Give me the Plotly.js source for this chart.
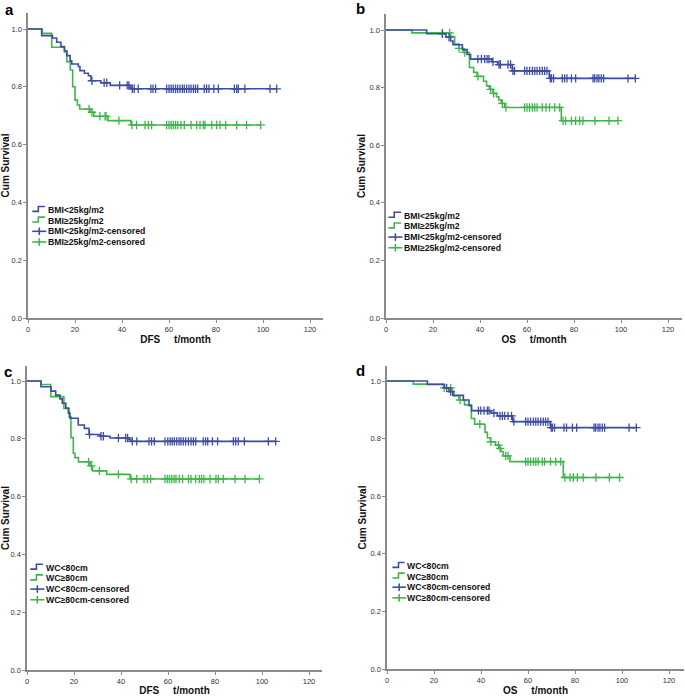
<!DOCTYPE html>
<html><head><meta charset="utf-8">
<script src="https://cdn.plot.ly/plotly-3.0.1.min.js"></script>
<style>html,body{margin:0;padding:0;background:#fff}#chart{width:685px;height:696px}</style>
</head><body><div id="chart"></div>
<script>
// ---------- DATA ----------
// Panel a: DFS by BMI
const aLowEventT = [0, 5.8, 10.4, 12.2, 14, 15.5, 16.5, 17.9, 18.6, 21.4, 22.1, 24, 25.7, 26.8, 31, 35, 43.4, 44];
const aLowSurv   = [1, 0.977, 0.969, 0.954, 0.939, 0.925, 0.908, 0.89, 0.879, 0.870, 0.856, 0.847, 0.838, 0.821, 0.814, 0.805, 0.798, 0.793];
const aLowCens   = [27.2, 32.4, 33.5, 39, 42.2, 42.9, 44.4, 45.2, 46.9, 52.3, 53.2, 54.3, 59.0, 60.0, 60.9, 61.8, 62.8, 63.7, 64.7, 65.7, 66.5, 67.5, 68.5, 69.4, 70.4, 71.3, 72.2, 75.0, 76.0, 77.0, 79.1, 81.0, 87.8, 88.8, 89.5, 92.3, 103.0, 105.8];
const aHighEventT = [0, 6, 10.1, 15.5, 16.5, 18, 19, 20, 21, 22, 26.6, 28, 34, 43.8];
const aHighSurv   = [1, 0.985, 0.937, 0.921, 0.887, 0.858, 0.80, 0.754, 0.737, 0.723, 0.712, 0.698, 0.683, 0.668];
const aHighCens   = [26.0, 27.2, 30.6, 32.8, 33.2, 38.7, 44.2, 46.2, 49.8, 51.2, 52.6, 59.0, 60.0, 60.9, 61.8, 62.8, 63.7, 65.1, 66.5, 69.4, 71.8, 73.2, 74.6, 75.3, 78.2, 80.3, 81.7, 84.1, 88.8, 93.0, 99.0];

// Panel b: OS by BMI
const bLowEventT = [0, 17.3, 25.5, 27.5, 28.5, 32.5, 34.5, 36, 45, 47.5, 53.7, 69.5];
const bLowSurv   = [1, 0.987, 0.975, 0.962, 0.949, 0.932, 0.915, 0.899, 0.89, 0.88, 0.858, 0.832];
const bLowCens   = [24.0, 26.8, 39.1, 40.6, 42.0, 43.0, 43.8, 45.5, 48.1, 48.7, 51.9, 53.0, 54.0, 54.7, 59.0, 60.0, 61.1, 62.3, 63.3, 64.3, 65.4, 66.5, 67.5, 68.5, 69.9, 70.4, 71.3, 75.0, 76.0, 77.0, 78.9, 80.7, 88.1, 88.8, 89.8, 90.6, 91.6, 92.6, 103.0, 106.1];
const bHighEventT = [0, 11, 27.5, 29.2, 31, 33, 35.5, 37.3, 38.7, 41.5, 42.8, 44, 45.5, 47, 48, 49, 50.5, 74.6];
const bHighSurv   = [1, 0.99, 0.977, 0.951, 0.936, 0.922, 0.87, 0.853, 0.839, 0.822, 0.806, 0.794, 0.78, 0.768, 0.757, 0.745, 0.731, 0.685];
const bHighCens   = [24.0, 27.1, 31.1, 33.5, 39.1, 44.5, 45.8, 49.5, 51.0, 59.0, 60.0, 61.1, 62.3, 63.3, 64.3, 66.5, 68.1, 69.6, 71.8, 73.9, 75.3, 76.4, 78.9, 80.7, 82.4, 83.8, 88.9, 94.9, 98.7];

// Panel c: DFS by WC
const cLowEventT = [0, 5.9, 10.2, 12.2, 14.0, 15.0, 16.5, 17.6, 18.3, 21.8, 24.4, 26.4, 31.1, 35.3, 43.4, 44.2];
const cLowSurv   = [1, 0.980, 0.965, 0.951, 0.938, 0.923, 0.906, 0.889, 0.871, 0.848, 0.836, 0.815, 0.809, 0.803, 0.797, 0.791];
const cLowCens   = [26.6, 31.5, 32.5, 38.9, 42.0, 42.8, 44.8, 46.7, 51.9, 53.0, 54.2, 58.7, 59.9, 60.9, 61.8, 62.7, 63.7, 64.7, 65.5, 66.5, 67.5, 68.7, 69.8, 70.8, 71.8, 75.0, 76.0, 76.9, 78.9, 81.1, 87.8, 88.8, 89.9, 92.5, 102.7, 105.8];
const cHighEventT = [0, 6.0, 10.1, 15.7, 17.9, 18.7, 19.7, 20.4, 21.9, 26.8, 27.9, 33.9, 43.8];
const cHighSurv   = [1, 0.988, 0.946, 0.905, 0.876, 0.804, 0.75, 0.735, 0.72, 0.706, 0.689, 0.677, 0.661];
const cHighCens   = [26.2, 27.4, 30.8, 38.9, 44.3, 46.7, 49.8, 51.2, 52.6, 58.7, 59.7, 60.6, 61.6, 62.6, 63.4, 64.8, 66.2, 68.7, 69.8, 71.8, 73.3, 74.3, 75.3, 77.9, 80.4, 81.4, 83.5, 88.5, 92.8, 98.9];

// Panel d: OS by WC
const dLowEventT = [0, 17.2, 24.5, 26.4, 28, 32.5, 34.9, 36, 44.2, 47, 53.5, 69.5];
const dLowSurv   = [1, 0.988, 0.976, 0.963, 0.95, 0.934, 0.914, 0.897, 0.889, 0.879, 0.859, 0.838];
const dLowCens   = [25.4, 27.1, 38.9, 39.9, 41.3, 42.7, 43.4, 45.5, 48.1, 49.1, 50.1, 51.5, 53.0, 54.0, 59.0, 60.0, 61.1, 62.3, 63.3, 64.3, 65.4, 66.5, 67.5, 68.5, 69.9, 70.4, 71.3, 75.3, 76.4, 78.9, 80.7, 88.1, 88.8, 89.8, 90.6, 91.6, 92.6, 103.0, 106.1];
const dHighEventT = [0, 11.2, 24, 27.8, 28.5, 30.6, 33, 35.9, 37.3, 41.7, 42.7, 44, 46.2, 47.7, 48.5, 49.4, 52.3, 75];
const dHighSurv   = [1, 0.989, 0.976, 0.963, 0.949, 0.934, 0.917, 0.87, 0.85, 0.822, 0.803, 0.789, 0.777, 0.766, 0.755, 0.74, 0.72, 0.665];
const dHighCens   = [24.3, 27.1, 31.1, 39.5, 44.2, 47.4, 48.1, 50.5, 51.5, 59.0, 60.0, 61.1, 62.3, 63.3, 64.3, 66.1, 67.1, 69.6, 71.8, 73.9, 75.7, 77.9, 79.3, 81.0, 83.5, 88.9, 94.6, 99.0];

// Labels
const bmiLabels = ['BMI<25kg/m2', 'BMI≥25kg/m2', 'BMI<25kg/m2-censored', 'BMI≥25kg/m2-censored'];
const wcLabels  = ['WC<80cm', 'WC≥80cm', 'WC<80cm-censored', 'WC≥80cm-censored'];
const panelLetters = ['a', 'b', 'c', 'd'];
const xTitles = ['DFS', 'OS', 'DFS', 'OS'];
const xTickVals = [0, 20, 40, 60, 80, 100, 120];
const yTickVals = [0, 0.2, 0.4, 0.6, 0.8, 1.0];

// ---------- STYLE / LAYOUT ----------
const W = 685, H = 696, PX_PER_MONTH = 2.35;
const BLUE = '#3d4da6', GREEN = '#3fb64a', AXC = '#8a8a8a';
const FONT = 'Arial, "Liberation Sans", sans-serif';
const NB = '\u00a0';

const panels = [
  {id:'', low:[aLowEventT,aLowSurv,aLowCens], high:[aHighEventT,aHighSurv,aHighCens], labels:bmiLabels,
   g:{left:28,right:323,bottom:318,top:13,pxS:289}, leg:{tx:8.0, ix:[1.8,4.4,7.2], top:0.374}, letter:[9,9]},
  {id:'2', low:[bLowEventT,bLowSurv,bLowCens], high:[bHighEventT,bHighSurv,bHighCens], labels:bmiLabels,
   g:{left:386,right:682,bottom:318,top:14,pxS:288}, leg:{tx:7.1, ix:[1.0,3.5,6.4], top:0.355}, letter:[360,8.5]},
  {id:'3', low:[cLowEventT,cLowSurv,cLowCens], high:[cHighEventT,cHighSurv,cHighCens], labels:wcLabels,
   g:{left:27,right:322,bottom:670,top:366,pxS:289}, leg:{tx:7.5, ix:[1.4,4.0,6.8], top:0.354}, letter:[7.5,371]},
  {id:'4', low:[dLowEventT,dLowSurv,dLowCens], high:[dHighEventT,dHighSurv,dHighCens], labels:wcLabels,
   g:{left:387,right:684,bottom:669,top:366,pxS:288}, leg:{tx:8.0, ix:[2.3,4.9,7.5], top:0.358}, letter:[360,370]}
];

function survAt(times, surv, t){ let s = surv[0]; for (let i=0;i<times.length;i++){ if (times[i] <= t) s = surv[i]; } return s; }

const traces = [], shapes = [], annotations = [];
const layout = {
  width: W, height: H, margin:{l:0,r:0,t:0,b:0}, paper_bgcolor:'#fff', plot_bgcolor:'#fff',
  showlegend:false, hovermode:false, font:{family:FONT, color:'#222'}
};

panels.forEach((p, k) => {
  const xa = 'x' + p.id, ya = 'y' + p.id;
  const g = p.g;
  [[p.high, GREEN, 1], [p.low, BLUE, 0]].forEach(([d, col, li]) => {
    const [t, s, c] = d;
    const last = c[c.length-1];
    traces.push({type:'scatter', mode:'lines', xaxis:xa, yaxis:ya, name:p.labels[li],
      x:t.concat([last]), y:s.concat([s[s.length-1]]), line:{shape:'hv', color:col, width:1.6}, hoverinfo:'skip'});
    traces.push({type:'scatter', mode:'markers', xaxis:xa, yaxis:ya, name:p.labels[li+2],
      x:c, y:c.map(v => survAt(t, s, v)),
      marker:{symbol:'cross-thin-open', size:6, line:{color:col, width:1.3}, color:col}, hoverinfo:'skip'});
  });
  const axX = {
    domain:[g.left/W, g.right/W], anchor:ya, range:[0, (g.right-g.left)/PX_PER_MONTH],
    showline:true, linecolor:AXC, linewidth:1.6, ticks:'outside', ticklen:3, tickwidth:1, tickcolor:AXC,
    showgrid:false, zeroline:false, tickvals:xTickVals, tickfont:{size:7.5, color:'#333', family:FONT},
    title:{text:'<b>' + xTitles[k] + NB.repeat(5) + 't/month</b>', font:{size:10, color:'#111', family:FONT}, standoff:3},
    fixedrange:true
  };
  const axY = {
    domain:[1-g.bottom/H, 1-g.top/H], anchor:xa, range:[0, (g.bottom-g.top)/g.pxS],
    showline:true, linecolor:AXC, linewidth:1.6, ticks:'outside', ticklen:3, tickwidth:1, tickcolor:AXC,
    showgrid:false, zeroline:false, tickvals:yTickVals, tickformat:'.1f', tickfont:{size:7.5, color:'#333', family:FONT},
    title:{text:'<b>Cum Survival</b>', font:{size:10, color:'#111', family:FONT}, standoff:2},
    fixedrange:true
  };
  layout['xaxis' + p.id] = axX;
  layout['yaxis' + p.id] = axY;

  // legend (drawn inside the plot area, in data units)
  const L = p.leg, gap = 0.037;
  const cols = [BLUE, GREEN, BLUE, GREEN];
  p.labels.forEach((lab, i) => {
    const cy = L.top - i*gap;
    annotations.push({xref:xa, yref:ya, x:L.tx, y:cy, text:'<b>' + lab + '</b>', showarrow:false,
      xanchor:'left', yanchor:'middle', borderpad:0, font:{size:8.7, color:'#111', family:FONT}});
    if (i < 2) {
      shapes.push({type:'path', xref:xa, yref:ya,
        path:`M ${L.ix[0]},${cy-0.005} L ${L.ix[1]},${cy-0.005} L ${L.ix[1]},${cy+0.012} L ${L.ix[2]},${cy+0.012}`,
        line:{color:cols[i], width:1.6}});
    } else {
      const xm = (L.ix[0] + L.ix[2]) / 2;
      shapes.push({type:'line', xref:xa, yref:ya, x0:L.ix[0], x1:L.ix[2]+0.6, y0:cy, y1:cy, line:{color:cols[i], width:1.6}});
      shapes.push({type:'line', xref:xa, yref:ya, x0:xm+0.3, x1:xm+0.3, y0:cy-0.013, y1:cy+0.013, line:{color:cols[i], width:1.6}});
    }
  });
  annotations.push({xref:'paper', yref:'paper', x:p.letter[0]/W, y:1-p.letter[1]/H, text:'<b>' + panelLetters[k] + '</b>',
    showarrow:false, xanchor:'center', yanchor:'middle', borderpad:0, font:{size:15, color:'#000', family:FONT}});
});

layout.shapes = shapes;
layout.annotations = annotations;
Plotly.newPlot('chart', traces, layout, {displayModeBar:false, staticPlot:true});
</script></body></html>
